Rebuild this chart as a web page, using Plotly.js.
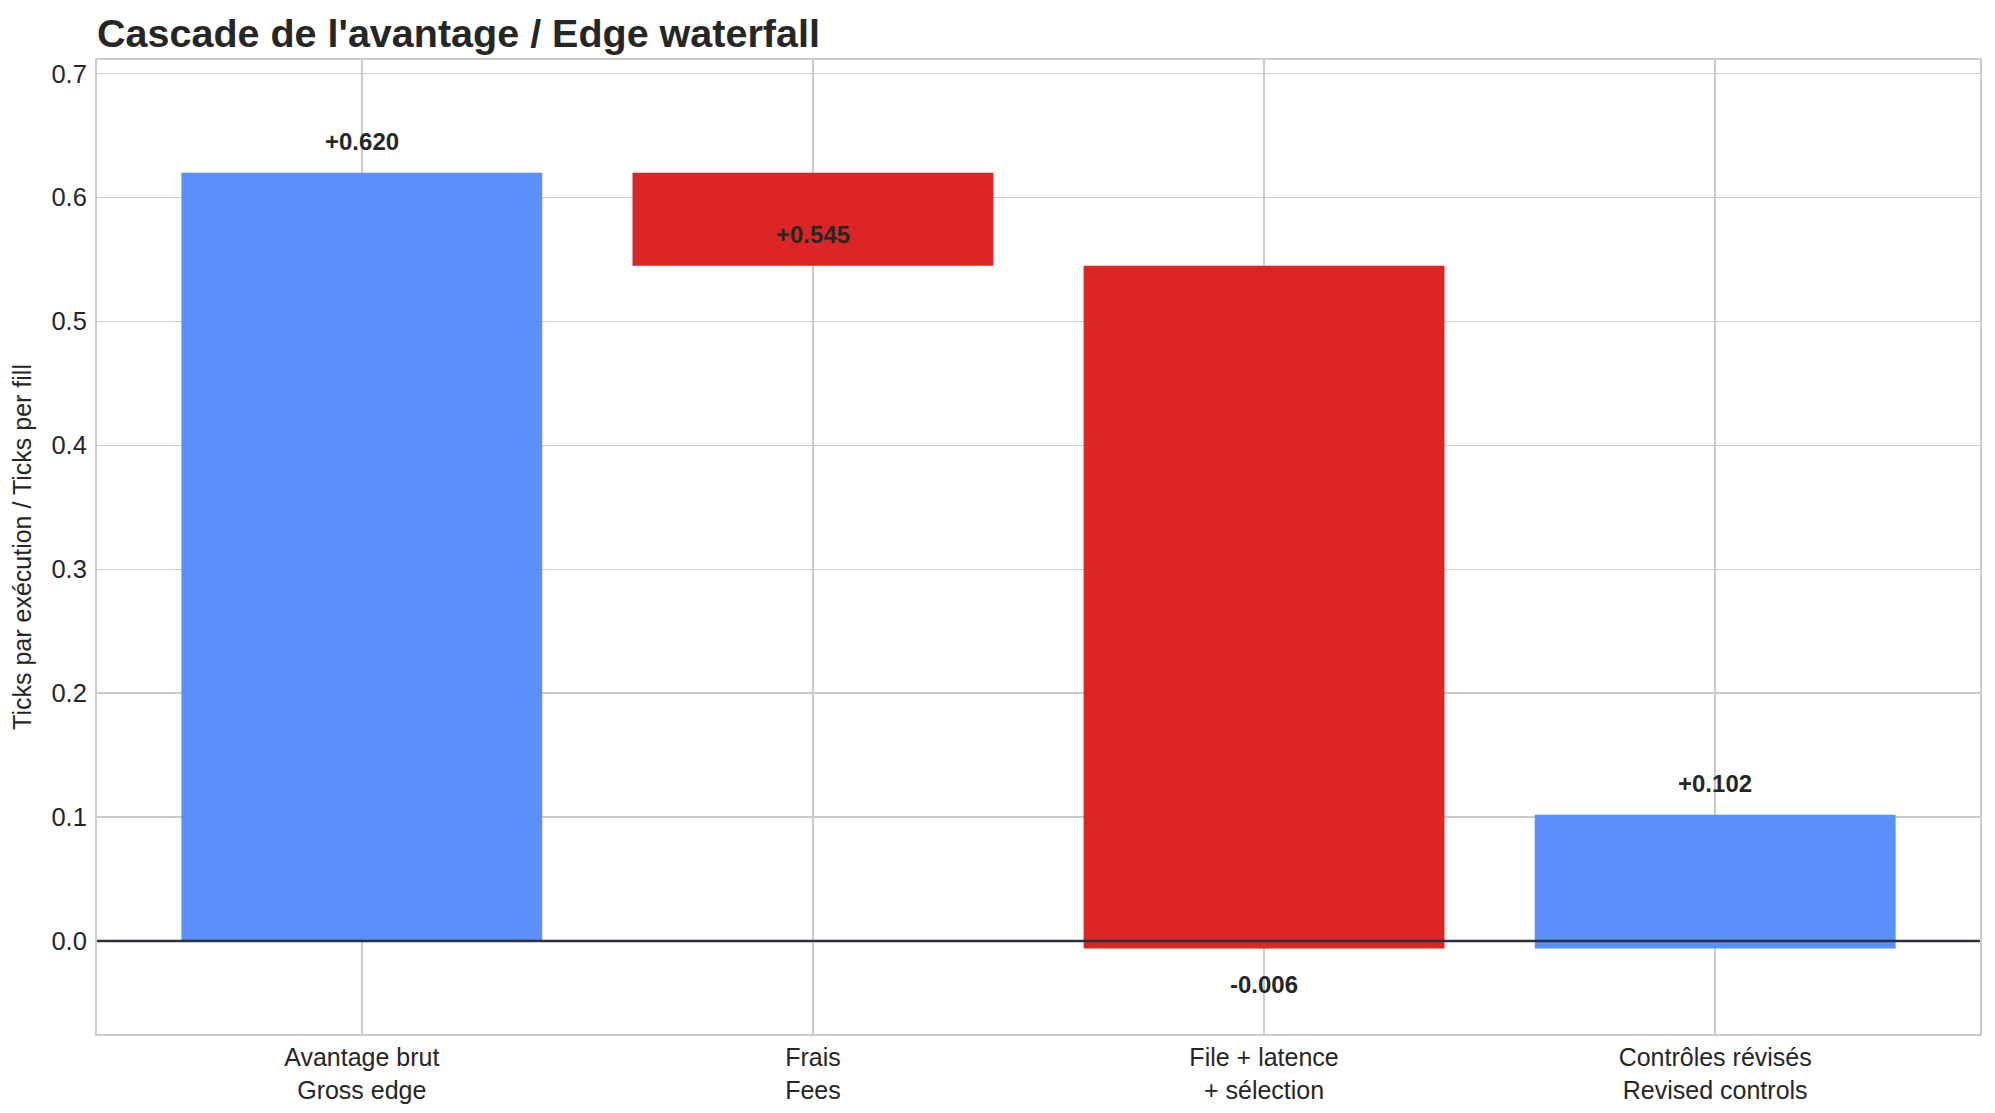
<!DOCTYPE html>
<html>
<head>
<meta charset="utf-8">
<script src="https://cdn.plot.ly/plotly-3.0.1.min.js"></script>
<style>
  html, body { margin: 0; padding: 0; background: #ffffff; }
  #chart { width: 1995px; height: 1113px; }
</style>
</head>
<body>
<div id="chart"></div>
<script>
'use strict';
/* Steps of the edge waterfall (ticks per fill) */
var categories = ['Avantage brut<br>Gross edge', 'Frais<br>Fees', 'File + latence<br>+ sélection', 'Contrôles révisés<br>Revised controls'];
var deltas = [0.620, -0.075, -0.551, 0.108];

var blue = '#5b8ff9';
var red = '#dc2626';
var ink = '#262626';

/* running totals for the labels */
var totals = [];
var run = 0;
for (var i = 0; i < deltas.length; i++) {
  run += deltas[i];
  totals.push(run);
}

var waterfall_data = [
{
  type: 'waterfall',
  x: categories,
  y: deltas,
  measure: deltas.map(function () { return 'relative'; }),
  width: 0.8,
  increasing: { marker: { color: blue } },
  decreasing: { marker: { color: red } },
  connector: { visible: false },
  textinfo: 'none',
  hoverinfo: 'x+y'
}];

var labels = totals.map(function (t, k) {
  var s = (t >= 0 ? '+' : '-') + Math.abs(t).toFixed(3);
  return {
    x: categories[k],
    y: t,
    xref: 'x',
    yref: 'y',
    text: '<b>' + s + '</b>',
    showarrow: false,
    yanchor: 'middle',
    yshift: t >= 0 ? 31 : -36,
    font: { family: 'Liberation Sans, Arial, sans-serif', size: 24, color: ink }
  };
});

var layout = {
  width: 1995,
  height: 1113,
  margin: { l: 97, r: 15, t: 60, b: 79 },
  paper_bgcolor: '#ffffff',
  plot_bgcolor: '#ffffff',
  showlegend: false,
  font: { family: 'Liberation Sans, Arial, sans-serif', size: 24, color: ink },
  title: {
    text: "<b>Cascade de l'avantage / Edge waterfall</b>",
    x: 97 / 1995,
    xanchor: 'left',
    xref: 'container',
    y: 1 - 33 / 1113,
    yanchor: 'middle',
    yref: 'container',
    font: { size: 39.5, color: ink }
  },
  xaxis: {
    type: 'category',
    range: [-0.587, 3.587],
    showgrid: true,
    gridcolor: '#cccccc',
    gridwidth: 1.6,
    showline: true,
    linecolor: '#cccccc',
    linewidth: 2,
    mirror: true,
    ticks: '',
    ticklabelstandoff: 0,
    tickfont: { size: 25 },
    zeroline: false
  },
  yaxis: {
    range: [-0.075, 0.711],
    dtick: 0.1,
    tick0: 0,
    tickformat: '.1f',
    showgrid: true,
    gridcolor: '#cccccc',
    gridwidth: 1.6,
    showline: true,
    linecolor: '#cccccc',
    linewidth: 2,
    mirror: true,
    ticks: '',
    ticklabelstandoff: 3,
    tickfont: { size: 25.5 },
    zeroline: false,
    automargin: false,
    title: {
      text: 'Ticks par exécution / Ticks per fill',
      standoff: 13,
      font: { size: 25, color: ink }
    }
  },
  shapes: [
    {
      type: 'line',
      layer: 'above',
      xref: 'paper',
      yref: 'y',
      x0: 0,
      x1: 1,
      y0: 0,
      y1: 0,
      line: { color: '#2b3142', width: 2.5 }
    }
  ],
  annotations: labels
};

Plotly.newPlot('chart', waterfall_data, layout, { displayModeBar: false, staticPlot: true });
</script>
</body>
</html>
